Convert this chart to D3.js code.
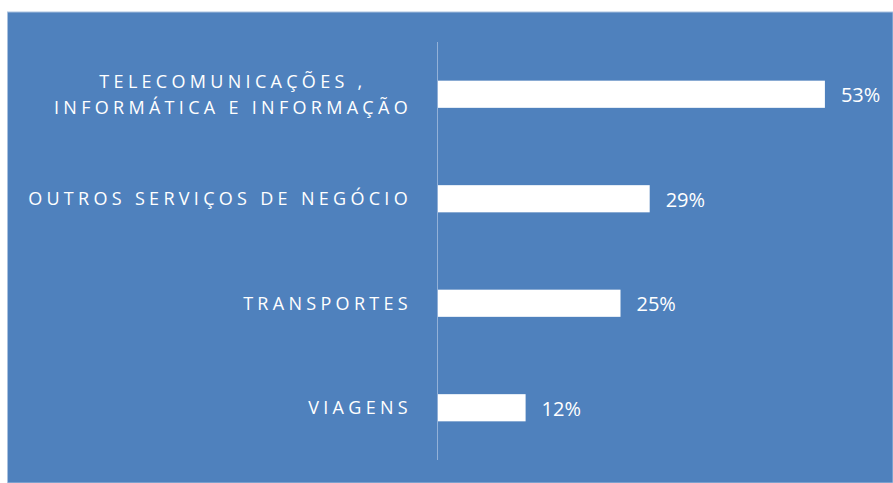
<!DOCTYPE html>
<html>
<head>
<meta charset="utf-8">
<script src="https://cdn.jsdelivr.net/npm/d3@7"></script>
<style>
  body { margin: 0; background: #fff; }
</style>
</head>
<body>
<div id="chart"></div>
<script>
// Data
const categories = [
  ["TELECOMUNICAÇÕES ,", "INFORMÁTICA E INFORMAÇÃO"],
  ["OUTROS SERVIÇOS DE NEGÓCIO"],
  ["TRANSPORTES"],
  ["VIAGENS"]
];
const values = [53, 29, 25, 12];
const valueLabels = ["53%", "29%", "25%", "12%"];

const width = 893, height = 483;

const svg = d3.select("#chart")
  .append("svg")
  .attr("width", width)
  .attr("height", height);

// Blue panel
svg.append("rect")
  .attr("x", 7.5)
  .attr("y", 12)
  .attr("width", width - 7.5)
  .attr("height", height - 12)
  .attr("fill", "#4F81BD")
  .attr("stroke", "#A9C1DF")
  .attr("stroke-width", 1);

const x = d3.scaleLinear()
  .domain([0, 60])
  .range([438, 876]);

const y = d3.scaleBand()
  .domain(d3.range(categories.length))
  .range([42, 460])
  .paddingInner(0.74)
  .paddingOuter(0.37);

// Vertical axis line
svg.append("line")
  .attr("x1", 437.5)
  .attr("x2", 437.5)
  .attr("y1", 42)
  .attr("y2", 460)
  .attr("stroke", "#93B1D8")
  .attr("stroke-width", 1);

// Bars
svg.append("g")
  .selectAll("rect")
  .data(values)
  .enter()
  .append("rect")
  .attr("x", x(0))
  .attr("y", (d, i) => y(i))
  .attr("width", d => x(d) - x(0))
  .attr("height", y.bandwidth())
  .attr("fill", "#ffffff");

// Value labels
svg.append("g")
  .selectAll("text")
  .data(values)
  .enter()
  .append("text")
  .attr("x", d => x(d) + 16)
  .attr("y", (d, i) => y(i) + y.bandwidth() / 2 + 8)
  .attr("font-family", "Open Sans, sans-serif")
  .attr("font-size", "20px")
  .attr("fill", "#ffffff")
  .text((d, i) => valueLabels[i]);

// Category labels (letter spaced, lines centred on the widest line)
const labels = svg.append("g")
  .selectAll("text")
  .data(categories)
  .enter()
  .append("text")
  .attr("font-family", "Open Sans, sans-serif")
  .attr("font-size", "18px")
  .attr("letter-spacing", "4.3px")
  .attr("fill", "#ffffff")
  .attr("text-anchor", "middle");

labels.each(function(lines, i) {
  const t = d3.select(this);
  const cy = y(i) + y.bandwidth() / 2;
  lines.forEach((line, j) => {
    t.append("tspan")
      .attr("y", cy + 6.5 + (j - (lines.length - 1) / 2) * 26)
      .text(line);
  });
  // right edge of the widest line sits near the axis
  const w = d3.max(t.selectAll("tspan").nodes(), n => n.getComputedTextLength());
  t.selectAll("tspan").attr("x", 412 - w / 2);
});
</script>
</body>
</html>
